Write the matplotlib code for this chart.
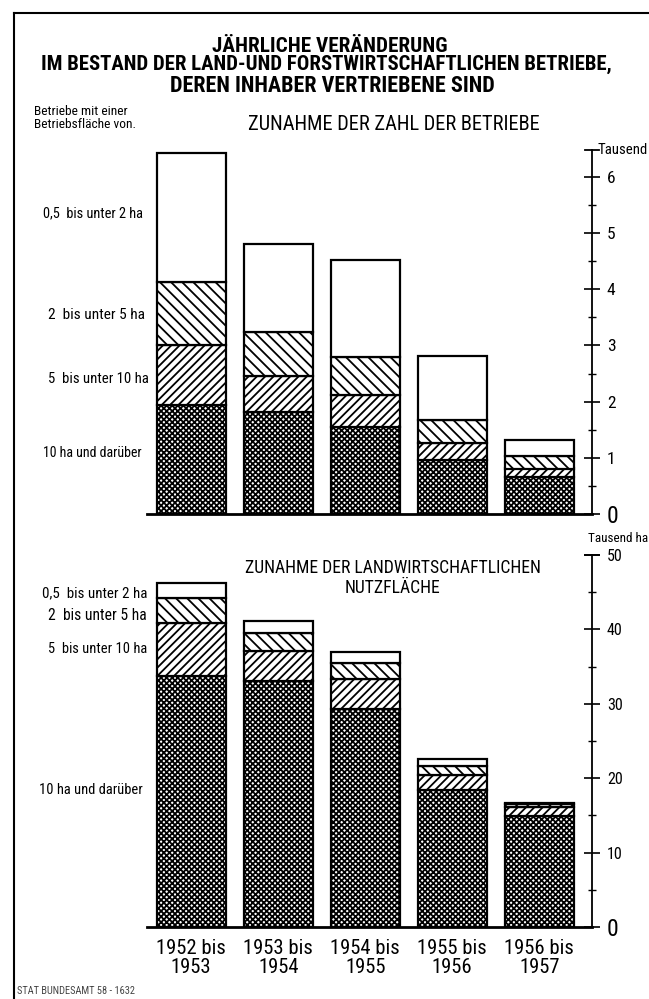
import numpy as np
import matplotlib.pyplot as plt
from matplotlib import font_manager
from matplotlib.lines import Line2D

# schmale Schrift bevorzugen, sonst die nächstbeste
available = {f.name for f in font_manager.fontManager.ttflist}
family = 'DejaVu Sans'
for cand in ['Liberation Sans Narrow', 'DejaVu Sans Condensed', 'Roboto Condensed',
			 'Roboto', 'Liberation Sans']:
	if cand in available:
		family = cand
		break
plt.rcParams['font.family'] = [family, 'DejaVu Sans']
plt.rcParams['hatch.linewidth'] = 1.3

periods = ['1952 bis\n1953', '1953 bis\n1954', '1954 bis\n1955', '1955 bis\n1956', '1956 bis\n1957']
size_classes = ['10 ha und darüber', '5  bis unter 10 ha', '2  bis unter 5 ha', '0,5  bis unter 2 ha']

# Zunahme der Zahl der Betriebe (Tausend)
betriebe_10_plus = [1.94, 1.82, 1.54, 0.96, 0.66]
betriebe_5_10 = [1.06, 0.64, 0.57, 0.30, 0.15]
betriebe_2_5 = [1.13, 0.78, 0.69, 0.42, 0.22]
betriebe_05_2 = [2.30, 1.56, 1.73, 1.13, 0.28]

# Zunahme der landwirtschaftlichen Nutzfläche (Tausend ha)
flaeche_10_plus = [33.7, 33.0, 29.3, 18.4, 14.9]
flaeche_5_10 = [7.1, 4.1, 4.1, 2.0, 1.2]
flaeche_2_5 = [3.4, 2.4, 2.1, 1.3, 0.4]
flaeche_05_2 = [2.1, 1.6, 1.5, 0.9, 0.2]

hatches = ['xxxxxx', '////', '\\\\\\', '']

W, H = 649, 999
fig = plt.figure(figsize=(W / 100, H / 100), dpi=100)
fits = []


def px_axes(x0, y0, x1, y1):
	return fig.add_axes([x0 / W, 1 - y1 / H, (x1 - x0) / W, (y1 - y0) / H])


def fig_text(x, y, s, target=None, **kw):
	t = fig.text(x / W, 1 - y / H, s, **kw)
	if target:
		fits.append((t, target))
	return t


def draw_stack(ax, series):
	x = np.arange(len(periods))
	bottom = np.zeros(len(periods))
	for vals, hatch in zip(series, hatches):
		ax.bar(x, vals, width=0.793, bottom=bottom,
			   facecolor='white', edgecolor='black',
			   hatch=hatch, linewidth=1.6, zorder=2)
		bottom += np.array(vals)
	ax.set_xlim(-0.508, 4.61)
	ax.spines['left'].set_visible(False)
	ax.spines['top'].set_visible(False)
	ax.spines['right'].set_linewidth(1.3)
	ax.spines['bottom'].set_linewidth(2.0)
	ax.yaxis.tick_right()
	ax.tick_params(axis='y', which='major', direction='inout', length=11,
				   width=1.2, pad=5, labelsize=11.5)
	ax.tick_params(axis='y', which='minor', direction='inout', length=6, width=1.0)
	ax.set_xticks(x)
	# Kappe oben an der Achse
	ax.plot([0.984, 1.016], [1, 1], color='black', lw=1.3,
			transform=ax.transAxes, clip_on=False)


# oberes Diagramm
ax1 = px_axes(147, 150, 592.3, 514)
draw_stack(ax1, [betriebe_10_plus, betriebe_5_10, betriebe_2_5, betriebe_05_2])
ax1.set_ylim(0, 6.48)
ax1.set_yticks(range(0, 7))
ax1.set_yticks(np.arange(0.5, 6.5, 1), minor=True)
ax1.tick_params(axis='x', length=0, labelbottom=False)
ax1.tick_params(axis='y', which='major', labelsize=12.5)
ax1.get_yticklabels()[0].set_fontsize(17)

# unteres Diagramm
ax2 = px_axes(147, 555, 592.3, 927)
draw_stack(ax2, [flaeche_10_plus, flaeche_5_10, flaeche_2_5, flaeche_05_2])
ax2.set_ylim(0, 50)
ax2.set_yticks(range(0, 51, 10))
ax2.set_yticks(range(5, 50, 10), minor=True)
ax2.set_xticklabels(periods, fontsize=14, linespacing=0.95)
ax2.tick_params(axis='x', length=0, pad=9)
ax2.get_yticklabels()[0].set_fontsize(17)

# Titel
fig_text(330, 46, 'JÄHRLICHE VERÄNDERUNG', target=235, ha='center', va='center',
		 fontsize=12, fontweight='bold')
fig_text(326, 64, 'IM BESTAND DER LAND-UND FORSTWIRTSCHAFTLICHEN BETRIEBE,', target=571,
		 ha='center', va='center', fontsize=12, fontweight='bold')
fig_text(332, 86, 'DEREN INHABER VERTRIEBENE SIND', target=327, ha='center', va='center',
		 fontsize=12, fontweight='bold')

fig_text(34, 118, 'Betriebe mit einer\nBetriebsfläche von.', target=102, ha='left',
		 va='center', fontsize=9.5, linespacing=1.05)
fig_text(394, 125, 'ZUNAHME DER ZAHL DER BETRIEBE', target=289, ha='center',
		 va='center', fontsize=12)
fig_text(393, 578, 'ZUNAHME DER LANDWIRTSCHAFTLICHEN\nNUTZFLÄCHE', target=297,
		 ha='center', va='center', fontsize=11.5, linespacing=1.15)

fig_text(598, 150, 'Tausend', target=50, ha='left', va='center', fontsize=10)
fig_text(588, 538, 'Tausend ha', target=60, ha='left', va='center', fontsize=10)

# Größenklassen links
for label, y, xr, w in zip(size_classes, [453, 379, 315, 213],
						   [142, 149, 145, 143], [99, 100, 96, 100]):
	fig_text(xr, y, label, target=w, ha='right', va='center', fontsize=10)
for label, y, xr, w in zip(size_classes, [790, 649, 616, 593],
						   [143, 147, 147, 147], [103, 98, 98, 104]):
	fig_text(xr, y, label, target=w, ha='right', va='center', fontsize=10)

fig_text(17, 991, 'STAT BUNDESAMT 58 - 1632', target=120, ha='left', va='center',
		 fontsize=7, color='#444444')

# Rahmen
fig.add_artist(Line2D([14 / W, 14 / W], [1 - 13 / H, 0], color='black', lw=1.5))
fig.add_artist(Line2D([14 / W, 1], [1 - 13 / H, 1 - 13 / H], color='black', lw=1.5))

# Schriftgrößen an die Breiten der Vorlage anpassen
fig.canvas.draw()
renderer = fig.canvas.get_renderer()
for t, target in fits:
	w = t.get_window_extent(renderer).width
	t.set_fontsize(t.get_fontsize() * target / w)
cat_w = ax2.get_xticklabels()[0].get_window_extent(renderer).width
for lab in ax2.get_xticklabels():
	lab.set_fontsize(lab.get_fontsize() * 70 / cat_w)

fig.savefig('out.png', dpi=100)
